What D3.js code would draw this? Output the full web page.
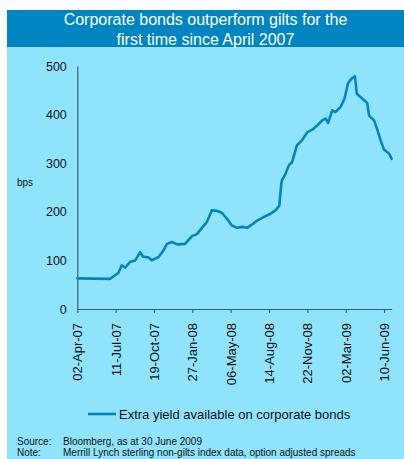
<!DOCTYPE html>
<html>
<head>
<meta charset="utf-8">
<script src="https://cdn.jsdelivr.net/npm/d3@7"></script>
<style>
  html, body { margin: 0; padding: 0; background: #ffffff; }
  svg { display: block; font-family: "Liberation Sans", Arial, sans-serif; }
</style>
</head>
<body>
<svg id="chart" width="404" height="459"></svg>
<script>
// Spread of corporate bonds over gilts (bps)
const dates = [
  "2007-04-02","2007-06-26","2007-07-18","2007-07-27","2007-08-05","2007-08-18","2007-08-31",
  "2007-09-13","2007-09-20","2007-10-05","2007-10-13","2007-10-31","2007-11-13","2007-11-22",
  "2007-12-05","2007-12-18","2008-01-08","2008-01-26","2008-02-08","2008-02-21","2008-03-05",
  "2008-03-18","2008-03-31","2008-04-13","2008-04-26","2008-05-09","2008-05-23","2008-06-05",
  "2008-06-18","2008-07-01","2008-07-14","2008-07-31","2008-08-18","2008-08-31","2008-09-10",
  "2008-09-15","2008-09-17","2008-09-26","2008-10-05","2008-10-13","2008-10-26","2008-11-08",
  "2008-11-22","2008-12-05","2008-12-18","2008-12-31","2009-01-09","2009-01-15","2009-01-26",
  "2009-02-03","2009-02-17","2009-02-27","2009-03-08","2009-03-17","2009-03-26","2009-03-31",
  "2009-04-14","2009-04-27","2009-05-02","2009-05-15","2009-05-24","2009-06-01","2009-06-10",
  "2009-06-23","2009-06-30"
];
const spread = [
  63, 62, 74, 90, 85, 97, 100,
  117, 108, 106, 100, 107, 121, 134,
  138, 133, 134, 150, 154, 167, 179,
  203, 202, 198, 186, 172, 167, 169,
  167, 174, 182, 189, 196, 203, 213,
  258, 265, 278, 296, 302, 337, 347,
  364, 369, 378, 388, 392, 383, 409,
  405, 416, 433, 464, 474, 479, 443,
  433, 424, 398, 388, 368, 347, 328,
  320, 309
];
const xTickLabels = ["02-Apr-07","11-Jul-07","19-Oct-07","27-Jan-08","06-May-08","14-Aug-08","22-Nov-08","02-Mar-09","10-Jun-09"];
const yTicks = [0, 100, 200, 300, 400, 500];
const seriesName = "Extra yield available on corporate bonds";

const parse = d3.timeParse("%Y-%m-%d");
const parseTick = d3.timeParse("%d-%b-%y");
const fmtTick = d3.timeFormat("%d-%b-%y");
const data = dates.map((d, i) => ({ date: parse(d), value: spread[i] }));

const svg = d3.select("#chart");

// background panels
svg.append("rect").attr("x", 7).attr("y", 47).attr("width", 397).attr("height", 412).attr("fill", "#8fe4fc");
svg.append("rect").attr("x", 7).attr("y", 10).attr("width", 397).attr("height", 37).attr("fill", "#0085c3");

// title
const title = svg.append("text").attr("fill", "#ffffff").attr("font-size", 16).attr("text-anchor", "middle");
title.append("tspan").attr("x", 205.5).attr("y", 25).text("Corporate bonds outperform gilts for the");
title.append("tspan").attr("x", 205.5).attr("y", 44.5).text("first time since April 2007");

const x = d3.scaleTime()
  .domain([parse("2007-04-02"), parse("2009-06-30")])
  .range([77.3, 391.7]);
const y = d3.scaleLinear().domain([0, 500]).range([309, 66]);

const axisColor = "#3c5f6e";

// x axis
const xAxis = svg.append("g").attr("transform", "translate(0,309)")
  .call(d3.axisBottom(x)
    .tickValues(xTickLabels.map(parseTick))
    .tickFormat(fmtTick)
    .tickSize(4)
    .tickSizeOuter(0));
xAxis.select(".domain").attr("stroke", axisColor).attr("stroke-width", 1.2);
xAxis.selectAll(".tick line").attr("stroke", axisColor).attr("stroke-width", 1.2);
xAxis.selectAll(".tick text")
  .attr("fill", "#111")
  .attr("font-size", 13)
  .attr("font-family", "Liberation Sans, Arial, sans-serif")
  .attr("text-anchor", "end")
  .attr("transform", "rotate(-90)")
  .attr("x", -14)
  .attr("y", 0)
  .attr("dy", "0.35em");

// y axis
const yAxis = svg.append("g").attr("transform", "translate(77.3,0)")
  .call(d3.axisLeft(y).tickValues(yTicks).tickSize(0).tickPadding(10.5).tickSizeOuter(0));
yAxis.select(".domain").attr("stroke", axisColor).attr("stroke-width", 1.2);
yAxis.selectAll(".tick text")
  .attr("fill", "#111")
  .attr("font-size", 12.5)
  .attr("font-family", "Liberation Sans, Arial, sans-serif");

// y axis unit
svg.append("text").attr("x", 17).attr("y", 186).attr("font-size", 10).attr("fill", "#111").text("bps");

// series line
const line = d3.line().x(d => x(d.date)).y(d => y(d.value));
svg.append("path")
  .datum(data)
  .attr("fill", "none")
  .attr("stroke", "#0383c4")
  .attr("stroke-width", 2.6)
  .attr("stroke-linejoin", "round")
  .attr("stroke-linecap", "round")
  .attr("d", line);

// legend
svg.append("line").attr("x1", 88).attr("x2", 116).attr("y1", 414).attr("y2", 414)
  .attr("stroke", "#0383c4").attr("stroke-width", 2.6);
svg.append("text").attr("x", 119).attr("y", 418.5).attr("font-size", 13).attr("fill", "#111").text(seriesName);

// footnotes
const notes = [["Source:", "Bloomberg, as at 30 June 2009", 445], ["Note:", "Merrill Lynch sterling non-gilts index data, option adjusted spreads", 456]];
notes.forEach(([k, v, yy]) => {
  svg.append("text").attr("x", 17).attr("y", yy).attr("font-size", 10).attr("fill", "#111").text(k);
  svg.append("text").attr("x", 63).attr("y", yy).attr("font-size", 10).attr("fill", "#111").text(v);
});
</script>
</body>
</html>
